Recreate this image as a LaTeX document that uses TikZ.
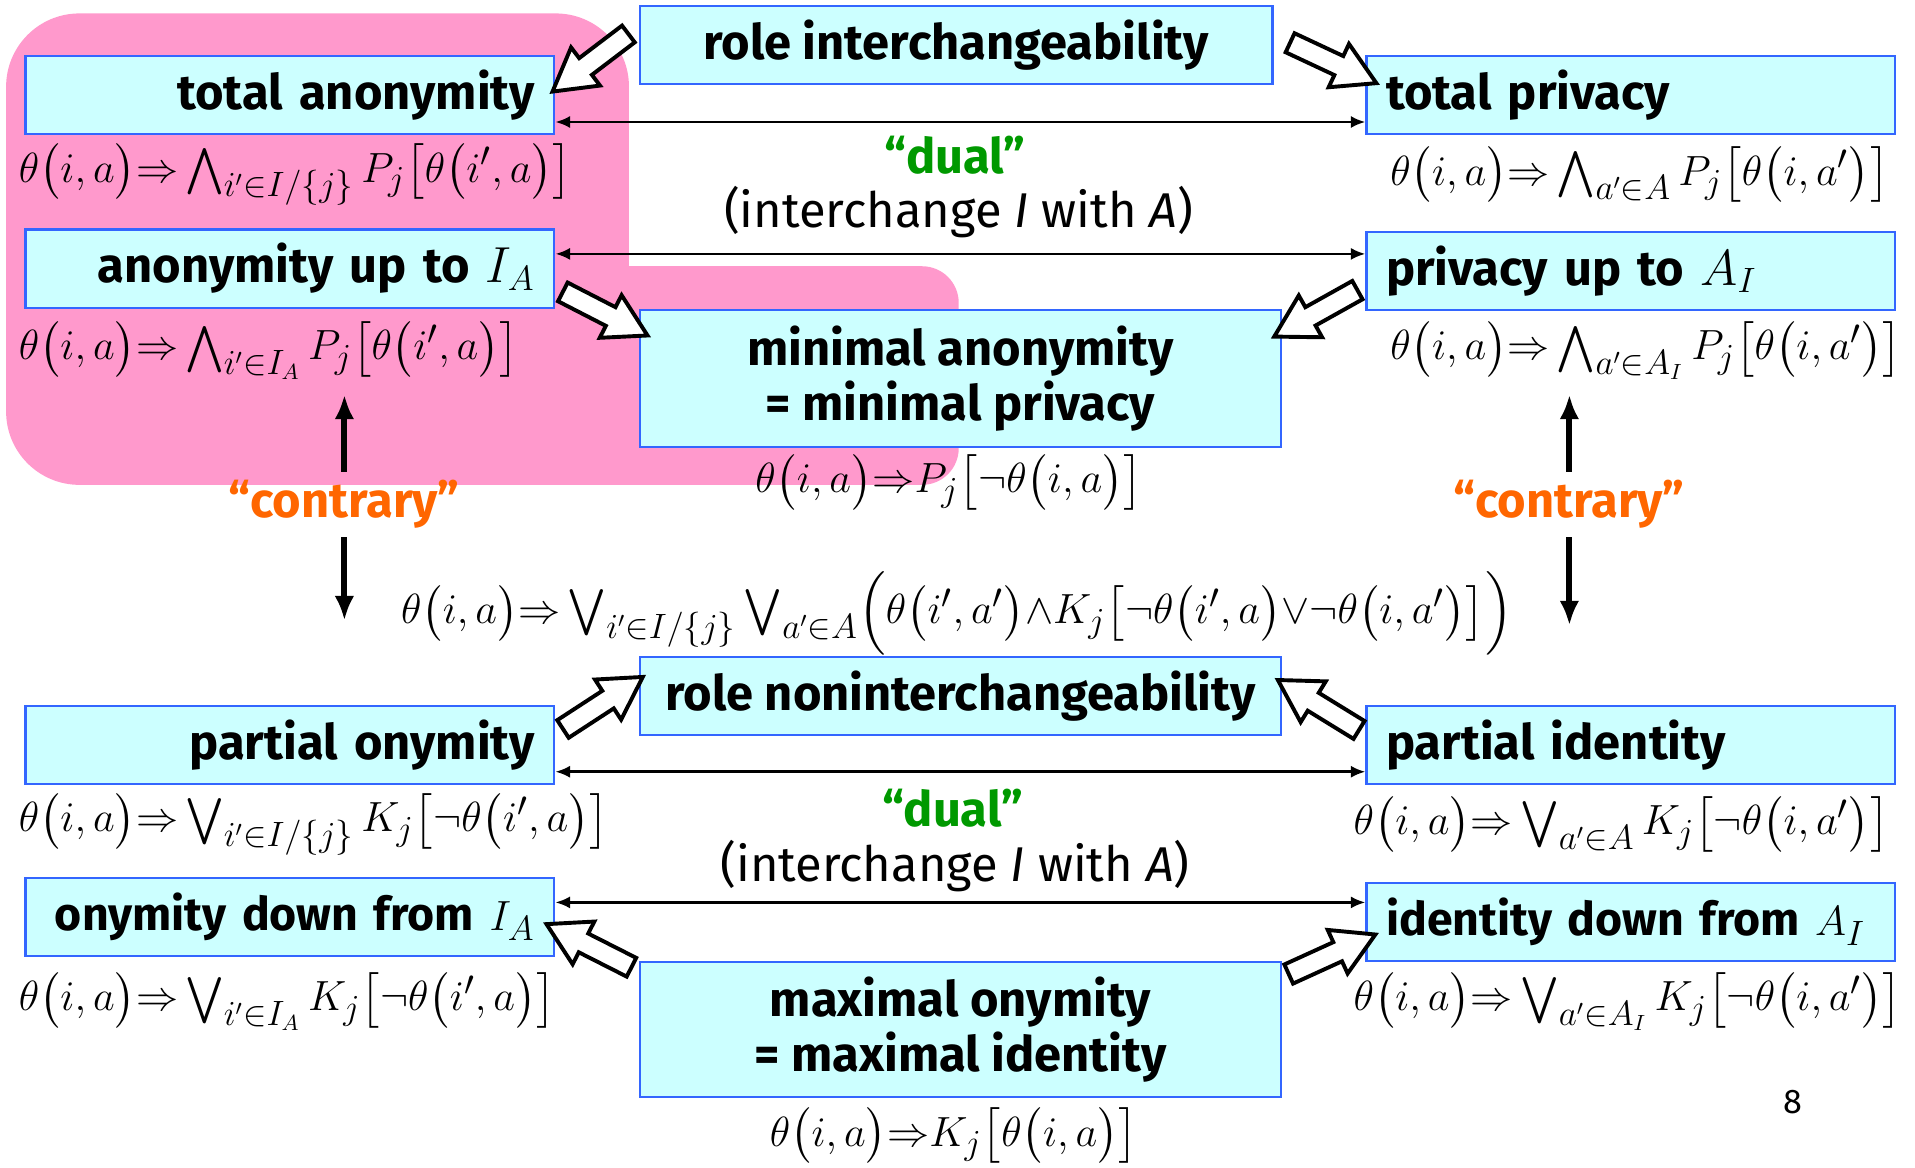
\documentclass[tikz,border=0pt]{standalone}
\usepackage{amsmath,amssymb}
\usepackage[no-math]{fontspec}
\setmainfont{Fira Sans}
\usepackage{tikz}
\usetikzlibrary{
	positioning,
	arrows.meta,
	shapes.arrows
}

\definecolor{boxcyan}{HTML}{CCFFFF}
\definecolor{boxblue}{HTML}{3366FF}
\definecolor{pinkbg}{HTML}{FF99CC}
\definecolor{dualgreen}{HTML}{009900}
\definecolor{contorange}{HTML}{FF6600}

\newcommand{\bxfont}{\fontsize{20}{22.5}\selectfont\bfseries}
\newcommand{\lbfont}{\fontsize{20}{22.5}\selectfont}
\newcommand{\tha}[1]{\theta\bigl(#1\bigr)}
\newcommand{\imp}{{\Rightarrow}}

\begin{document}
\begin{tikzpicture}[x=0.5pt,y=-0.5pt,
		box/.style={draw=boxblue,fill=boxcyan,line width=0.9pt,minimum height=32pt,inner xsep=8pt,inner ysep=0pt,font=\bxfont},
		sidebox/.style={box,text width=200.5pt,anchor=north west},
		midbox/.style={box,align=center,anchor=north west},
		formula/.style={font=\fontsize{19}{22}\selectfont,inner sep=0pt,anchor=west},
		dualarrow/.style={{Latex[length=6pt,width=5pt]}-{Latex[length=6pt,width=5pt]},line width=1.1pt},
		vertarrow/.style={-{Latex[length=10pt,width=8pt]},line width=2.4pt},
		hollow/.style={single arrow,draw,fill=white,line width=1.6pt,inner sep=3.5pt,minimum height=39pt,single arrow head extend=5.5pt,single arrow tip angle=60,sloped,allow upside down}
	]
	\useasboundingbox (0,0) rectangle (1568,956);

	\fill[pinkbg,rounded corners=30pt] (5,11) rectangle (515,397);
	\fill[pinkbg,rounded corners=15pt] (300,218) rectangle (785,397);

	\node[midbox,minimum width=259pt]                 (ri) at (523,4)    {role interchangeability};
	\node[sidebox,align=right]                        (ta) at (20,45)    {total anonymity};
	\node[sidebox,align=left]                         (tp) at (1118,45)  {total privacy};
	\node[sidebox,align=right]                        (au) at (20,187)   {anonymity up to\ $I_A$};
	\node[sidebox,align=left]                         (pu) at (1118,189) {privacy up to\ $A_I$};
	\node[midbox,minimum width=262.5pt,minimum height=56pt] (mn) at (523,253) {minimal anonymity\\= minimal privacy};
	\node[midbox,minimum width=262.5pt]               (rn) at (523,537)  {role noninterchangeability};
	\node[sidebox,align=right]                        (po) at (20,577)   {partial onymity};
	\node[sidebox,align=left]                         (pi) at (1118,577) {partial identity};
	\node[sidebox,align=right,font=\fontsize{19}{21}\selectfont\bfseries] (od) at (20,718)   {onymity down from\ $I_A$};
	\node[sidebox,align=left,font=\fontsize{19}{21}\selectfont\bfseries]  (id) at (1118,722) {identity down from $A_I$};
	\node[midbox,minimum width=262.5pt,minimum height=55pt] (mx) at (523,787) {maximal onymity\\= maximal identity};

	\node[formula] (fta) at (15,143)   {$\tha{i,a}\imp\bigwedge_{i'\in I/\{j\}}P_j\bigl[\tha{i',a}\bigr]$};
	\node[formula] (ftp) at (1138,143) {$\tha{i,a}\imp\bigwedge_{a'\in A}P_j\bigl[\tha{i,a'}\bigr]$};
	\node[formula] (fau) at (15,287)   {$\tha{i,a}\imp\bigwedge_{i'\in I_A}P_j\bigl[\tha{i',a}\bigr]$};
	\node[formula] (fpu) at (1138,287) {$\tha{i,a}\imp\bigwedge_{a'\in A_I}P_j\bigl[\tha{i,a'}\bigr]$};
	\node[formula] (fmn) at (618,395)  {$\tha{i,a}\imp P_j\bigl[\neg\tha{i,a}\bigr]$};
	\node[formula] (fmid) at (328,502) {$\tha{i,a}\imp\bigvee_{i'\in I/\{j\}}\bigvee_{a'\in A}\Bigl(\tha{i',a'}{\wedge}K_j\bigl[\neg\tha{i',a}{\vee}\neg\tha{i,a'}\bigr]\Bigr)$};
	\node[formula] (fpo) at (15,675)   {$\tha{i,a}\imp\bigvee_{i'\in I/\{j\}}K_j\bigl[\neg\tha{i',a}\bigr]$};
	\node[formula] (fpi) at (1108,675) {$\tha{i,a}\imp\bigvee_{a'\in A}K_j\bigl[\neg\tha{i,a'}\bigr]$};
	\node[formula] (fod) at (15,820)   {$\tha{i,a}\imp\bigvee_{i'\in I_A}K_j\bigl[\neg\tha{i',a}\bigr]$};
	\node[formula] (fid) at (1108,820) {$\tha{i,a}\imp\bigvee_{a'\in A_I}K_j\bigl[\neg\tha{i,a'}\bigr]$};
	\node[formula] (fmx) at (630,930)  {$\tha{i,a}\imp K_j\bigl[\tha{i,a}\bigr]$};

	\node[font=\bxfont,text=dualgreen]  (du1) at (782,127)  {“dual”};
	\node[font=\lbfont]                 (ix1) at (785,174)  {(interchange \textit{I} with \textit{A})};
	\node[font=\bxfont,text=dualgreen]  (du2) at (780,662)  {“dual”};
	\node[font=\lbfont]                 (ix2) at (782,709)  {(interchange \textit{I} with \textit{A})};
	\node[font=\bxfont,text=contorange] (cl)  at (282,413)  {“contrary”};
	\node[font=\bxfont,text=contorange] (cr)  at (1285,413) {“contrary”};
	\node[font=\fontsize{14}{16}\selectfont] (pg) at (1468,902) {8};

	\draw[dualarrow] ([yshift=-11pt]ta.east) -- ([yshift=-11pt]tp.west);
	\draw[dualarrow] ([yshift=6pt]au.east)   -- ([yshift=6pt]au.east -| pu.west);
	\draw[dualarrow] ([yshift=-11pt]po.east) -- ([yshift=-11pt]pi.west);
	\draw[dualarrow] ([yshift=6pt]od.east)   -- ([yshift=6pt]od.east -| id.west);

	\draw[vertarrow,shorten >=6pt] (cl.north) -- (cl.north |- fau.south);
	\draw[vertarrow] (cl.south) -- ([yshift=-3pt]cl.south |- fmid.west);
	\draw[vertarrow,shorten >=6pt] (cr.north) -- (cr.north |- fpu.south);
	\draw[vertarrow] (cr.south) -- ([yshift=-5pt]cr.south |- fmid.west);

	\path ([xshift=-1pt,yshift=7pt]ri.west)   -- node[hollow] {} ([xshift=1.5pt,yshift=3.5pt]ta.east);
	\path ([xshift=4.5pt,yshift=2pt]ri.east)  -- node[hollow] {} ([yshift=7pt]tp.west);
	\path ([yshift=-8pt]au.east)              -- node[hollow] {} ([yshift=-9pt]mn.north west);
	\path ([yshift=-6pt]pu.west)              -- node[hollow] {} ([yshift=-9.5pt]mn.north east);
	\path ([yshift=4.5pt]po.east)             -- node[hollow] {} ([xshift=-1.5pt,yshift=5.75pt]rn.west);
	\path ([yshift=4.5pt]pi.west)             -- node[hollow] {} ([xshift=2pt,yshift=4.25pt]rn.east);
	\path ([yshift=-4pt]mx.north west)        -- node[hollow] {} ([yshift=-4.75pt]od.east);
	\path ([yshift=-6.5pt]mx.north east)      -- node[hollow] {} ([yshift=-7pt]id.west);
\end{tikzpicture}
\end{document}
